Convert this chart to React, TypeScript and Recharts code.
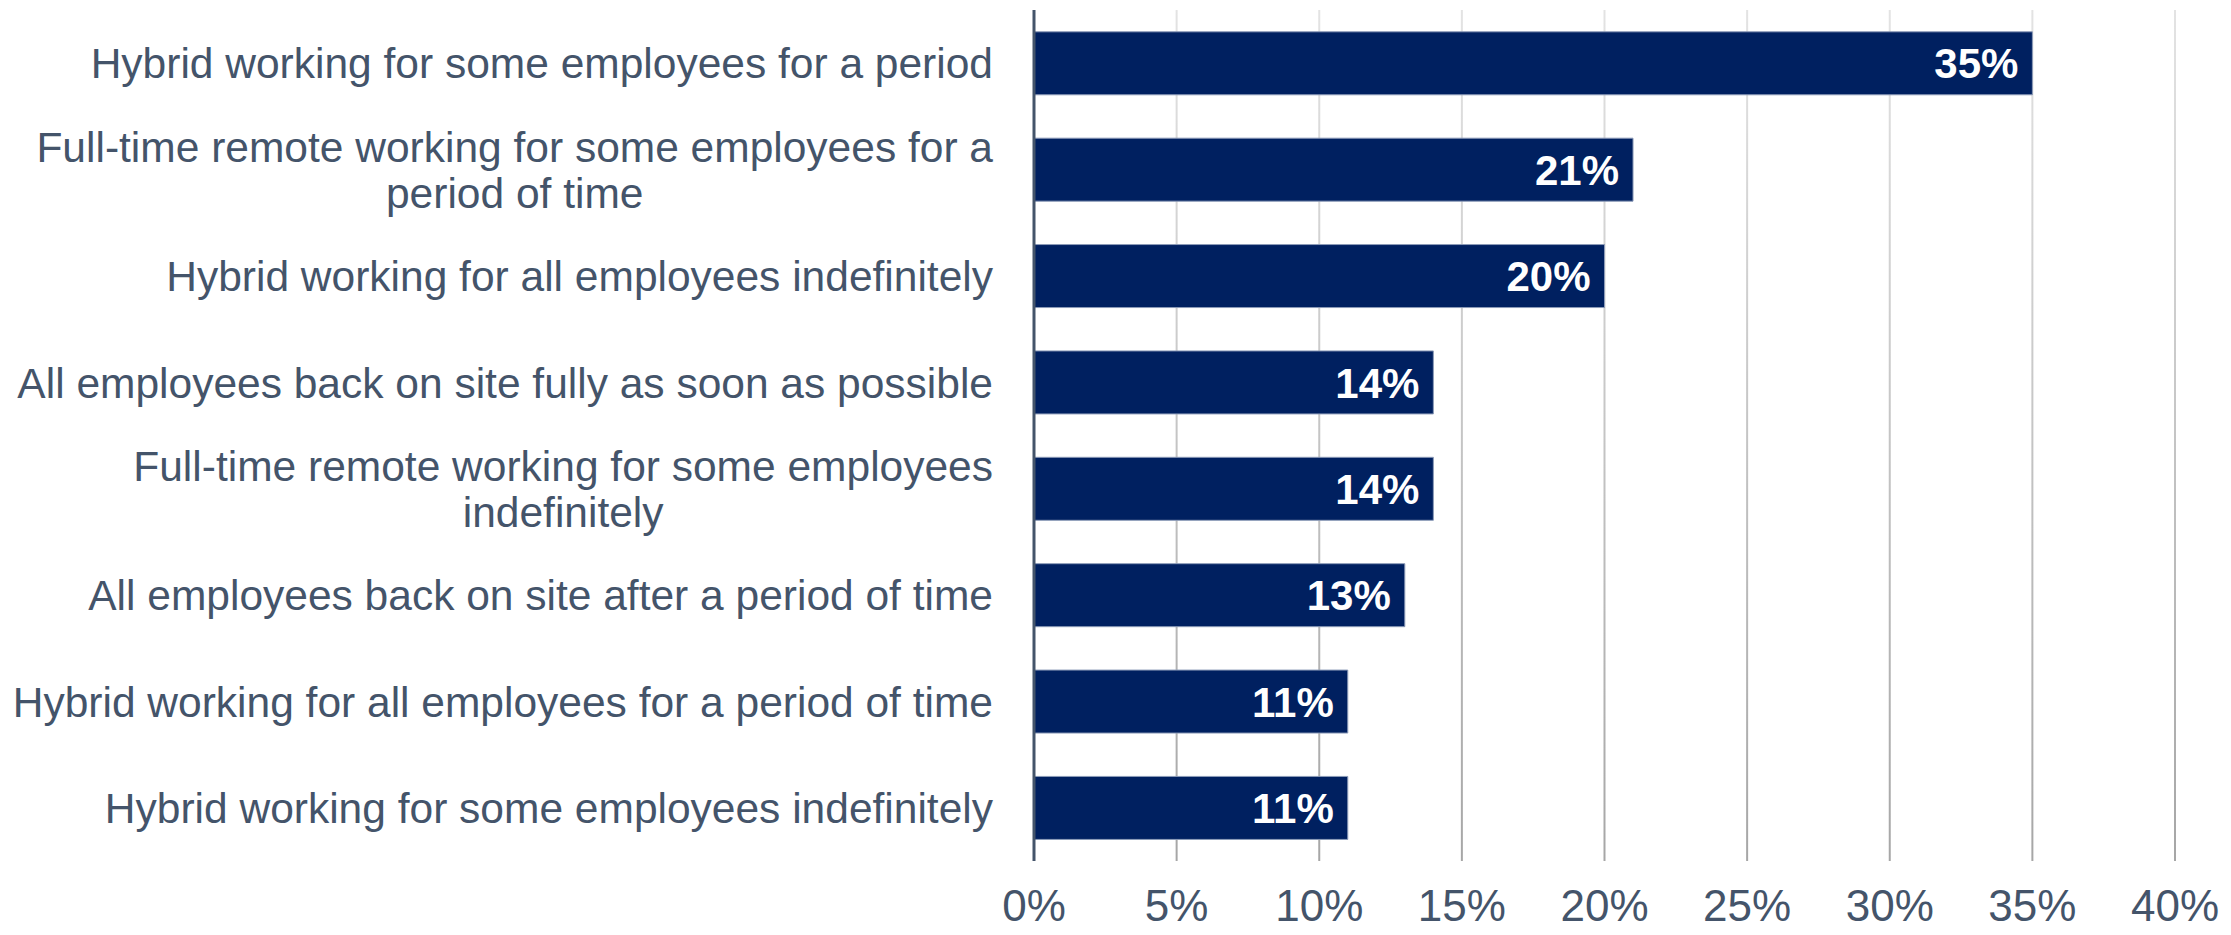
import React from 'react';
import { BarChart, Bar, XAxis, YAxis, CartesianGrid, LabelList } from 'recharts';

const categories = [
  'Hybrid working for some employees for a period',
  'Full-time remote working for some employees for a period of time',
  'Hybrid working for all employees indefinitely',
  'All employees back on site fully as soon as possible',
  'Full-time remote working for some employees indefinitely',
  'All employees back on site after a period of time',
  'Hybrid working for all employees for a period of time',
  'Hybrid working for some employees indefinitely',
];

// how each category label is wrapped in the original
const categoryLines = [
  ['Hybrid working for some employees for a period'],
  ['Full-time remote working for some employees for a', 'period of time'],
  ['Hybrid working for all employees indefinitely'],
  ['All employees back on site fully as soon as possible'],
  ['Full-time remote working for some employees', 'indefinitely'],
  ['All employees back on site after a period of time'],
  ['Hybrid working for all employees for a period of time'],
  ['Hybrid working for some employees indefinitely'],
];

const values = [35, 21, 20, 14, 14, 13, 11, 11];

const xTicks = [0, 5, 10, 15, 20, 25, 30, 35, 40];

const FONT = '"Liberation Sans", Arial, sans-serif';
const TEXT_COLOR = '#44546A';
const BAR_COLOR = '#002060';
const LABEL_SIZE = 42.5;

const chartData = categories.map((name, i) => ({ name, value: values[i] }));

let ctx: CanvasRenderingContext2D | null = null;
function textWidth(s: string) {
  if (!ctx) ctx = document.createElement('canvas').getContext('2d');
  if (!ctx) return s.length * LABEL_SIZE * 0.5;
  ctx.font = `${LABEL_SIZE}px ${FONT}`;
  return ctx.measureText(s).width;
}

const CategoryTick = (props: any) => {
  const { x, y, payload } = props;
  const idx = categories.indexOf(payload.value);
  const lines = categoryLines[idx] || [payload.value];
  const right = x - 33;
  const maxW = Math.max(...lines.map(textWidth));
  const lineH = 46;
  const startY = y - ((lines.length - 1) * lineH) / 2;
  return (
    <g>
      {lines.map((line, i) => (
        <text
          key={i}
          x={lines.length > 1 ? right - maxW / 2 : right}
          y={startY + i * lineH}
          dy="0.36em"
          textAnchor={lines.length > 1 ? 'middle' : 'end'}
          fill={TEXT_COLOR}
          fontSize={LABEL_SIZE}
          fontFamily={FONT}
        >
          {line}
        </text>
      ))}
    </g>
  );
};

const PercentTick = (props: any) => {
  const { x, y, payload } = props;
  return (
    <text x={x} y={y} dy="0.71em" textAnchor="middle" fill={TEXT_COLOR} fontSize={44} fontFamily={FONT}>
      {`${payload.value}%`}
    </text>
  );
};

const ValueLabel = (props: any) => {
  const { x, y, width, height, value } = props;
  return (
    <text
      x={x + width - 14}
      y={y + height / 2}
      dy="0.36em"
      textAnchor="end"
      fill="#FFFFFF"
      fontSize={42}
      fontWeight="bold"
      fontFamily={FONT}
    >
      {`${value}%`}
    </text>
  );
};

export default function App() {
  return (
    <div style={{ position: 'absolute', left: 0, top: 0, background: '#fff' }}>
      <BarChart
        width={2231}
        height={935}
        data={chartData}
        layout="vertical"
        barCategoryGap="20.5%"
        margin={{ top: 10, right: 56, bottom: 0, left: 0 }}
      >
        <defs>
          <linearGradient id="gridFade" gradientUnits="userSpaceOnUse" x1="0" y1="10" x2="0" y2="861">
            <stop offset="0%" stopColor="#E3E3E3" />
            <stop offset="100%" stopColor="#A6A6A6" />
          </linearGradient>
        </defs>
        <CartesianGrid horizontal={false} stroke="url(#gridFade)" strokeWidth={2} />
        <XAxis
          type="number"
          domain={[0, 40]}
          ticks={xTicks}
          height={74}
          axisLine={false}
          tickLine={false}
          tickSize={0}
          tickMargin={29}
          tick={<PercentTick />}
          interval={0}
        />
        <YAxis
          type="category"
          dataKey="name"
          width={1034}
          axisLine={{ stroke: TEXT_COLOR, strokeWidth: 3 }}
          tickLine={false}
          tick={<CategoryTick />}
          interval={0}
        />
        <Bar dataKey="value" fill={BAR_COLOR} stroke="#8C9BB8" strokeWidth={1} isAnimationActive={false}>
          <LabelList dataKey="value" content={<ValueLabel />} />
        </Bar>
      </BarChart>
    </div>
  );
}
